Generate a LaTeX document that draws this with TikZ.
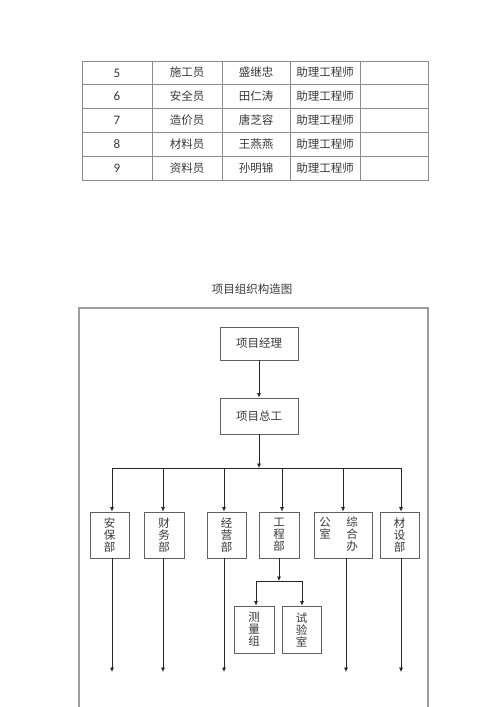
\documentclass[tikz,border=0pt]{standalone}
\usepackage{fontspec}
\setmainfont{Carlito}
\newfontfamily\cjk{Noto Sans CJK SC}
\usetikzlibrary{arrows.meta}
\definecolor{frame1}{rgb}{0.62,0.62,0.62}
\definecolor{grid1}{rgb}{0.55,0.55,0.55}
\definecolor{text1}{rgb}{0.22,0.22,0.22}
\definecolor{box1}{rgb}{0.38,0.38,0.38}
\tikzset{
  cell/.style={text=text1, inner sep=0pt, font=\cjk\fontsize{11.5}{12}\selectfont},
  num/.style={text=text1, inner sep=0pt, font=\fontsize{13}{14}\selectfont},
  headbox/.style={draw=box1, line width=0.8pt, text=text1, minimum width=78pt, inner sep=0pt, font=\cjk\fontsize{11.5}{12}\selectfont},
  dept/.style={draw=box1, line width=0.8pt, text=text1, minimum height=46pt, inner sep=0pt, align=center, font=\cjk\fontsize{11.5}{12}\selectfont},
  link/.style={draw=black!85, line width=0.7pt, -{Latex[length=4.5pt,width=4pt]}},
  bar/.style={draw=black!85, line width=0.7pt}
}
\begin{document}
\begin{tikzpicture}[x=1pt,y=-1pt]
\useasboundingbox (0,0) rectangle (500,707);
% staff table
\draw[grid1, line width=0.7pt] (82,61) rectangle (428,180);
\draw[grid1, line width=0.7pt] (82,84) -- (428,84);
\draw[grid1, line width=0.7pt] (82,108) -- (428,108);
\draw[grid1, line width=0.7pt] (82,132) -- (428,132);
\draw[grid1, line width=0.7pt] (82,156) -- (428,156);
\draw[grid1, line width=0.7pt] (152,61) -- (152,180);
\draw[grid1, line width=0.7pt] (222,61) -- (222,180);
\draw[grid1, line width=0.7pt] (290,61) -- (290,180);
\draw[grid1, line width=0.7pt] (360,61) -- (360,180);
\node[num] (no5) at (117,73) {5};
\node[cell] (job5) at (187,72.5) {施工员};
\node[cell] (who5) at (256,72.5) {盛继忠};
\node[cell] (rank5) at (325,72.5) {助理工程师};
\node[num] (no6) at (117,96.5) {6};
\node[cell] (job6) at (187,96) {安全员};
\node[cell] (who6) at (256,96) {田仁涛};
\node[cell] (rank6) at (325,96) {助理工程师};
\node[num] (no7) at (117,120.5) {7};
\node[cell] (job7) at (187,120) {造价员};
\node[cell] (who7) at (256,120) {唐芝容};
\node[cell] (rank7) at (325,120) {助理工程师};
\node[num] (no8) at (117,144.5) {8};
\node[cell] (job8) at (187,144) {材料员};
\node[cell] (who8) at (256,144) {王燕燕};
\node[cell] (rank8) at (325,144) {助理工程师};
\node[num] (no9) at (117,168.5) {9};
\node[cell] (job9) at (187,168) {资料员};
\node[cell] (who9) at (256,168) {孙明锦};
\node[cell] (rank9) at (325,168) {助理工程师};
% chart
\node[cell] (title) at (252,289) {项目组织构造图};
\draw[frame1, line width=1.5pt] (79,707) -- (79,308) -- (428,308) -- (428,707);
\node[headbox, minimum height=33pt] (jingli) at (259,343.5) {项目经理};
\node[headbox, minimum height=36pt] (zonggong) at (259,416) {项目总工};
\node[dept, minimum width=39pt] (anbao) at (109.5,535) {安\\保\\部};
\node[dept, minimum width=40pt] (caiwu) at (164,535) {财\\务\\部};
\node[dept, minimum width=39pt] (jingying) at (226.5,535) {经\\营\\部};
\node[dept, minimum width=40pt] (gongcheng) at (279,535) {工\\程\\部};
\node[dept, minimum width=58pt] (zonghe) at (343,535) {};
\node[cell, align=center, anchor=north] (zonghe1) at (325,517) {公\\室};
\node[cell, align=center, anchor=north] (zonghe2) at (352,517) {综\\合\\办};
\node[dept, minimum width=39pt] (caishe) at (399.5,535) {材\\设\\部};
\node[dept, minimum width=40pt, minimum height=47pt] (celiang) at (254,629.5) {测\\量\\组};
\node[dept, minimum width=39pt, minimum height=47pt] (shiyan) at (301.5,629.5) {试\\验\\室};
\coordinate (top) at (259,468);
\coordinate (b1) at (112,468);
\coordinate (b2) at (163,468);
\coordinate (b3) at (224,468);
\coordinate (b4) at (282,468);
\coordinate (b5) at (343,468);
\coordinate (b6) at (401,468);
\coordinate (e1) at (112,672);
\coordinate (e2) at (163,672);
\coordinate (e3) at (224,672);
\coordinate (e5) at (346,672);
\coordinate (e6) at (401,672);
\coordinate (sub) at (279,581);
\coordinate (s1) at (256,581);
\coordinate (s2) at (302,581);
\draw[link] (jingli) -- (zonggong);
\draw[link] (zonggong) -- (top);
\draw[bar] (b1) -- (b6);
\draw[link] (b1) -- (b1 |- anbao.north);
\draw[link] (b2) -- (b2 |- caiwu.north);
\draw[link] (b3) -- (b3 |- jingying.north);
\draw[link] (b4) -- (b4 |- gongcheng.north);
\draw[link] (b5) -- (b5 |- zonghe.north);
\draw[link] (b6) -- (b6 |- caishe.north);
\draw[link] (e1 |- anbao.south) -- (e1);
\draw[link] (e2 |- caiwu.south) -- (e2);
\draw[link] (e3 |- jingying.south) -- (e3);
\draw[link] (e5 |- zonghe.south) -- (e5);
\draw[link] (e6 |- caishe.south) -- (e6);
\draw[link] (gongcheng) -- (sub);
\draw[bar] (s1) -- (s2);
\draw[link] (s1) -- (s1 |- celiang.north);
\draw[link] (s2) -- (s2 |- shiyan.north);
\end{tikzpicture}
\end{document}
